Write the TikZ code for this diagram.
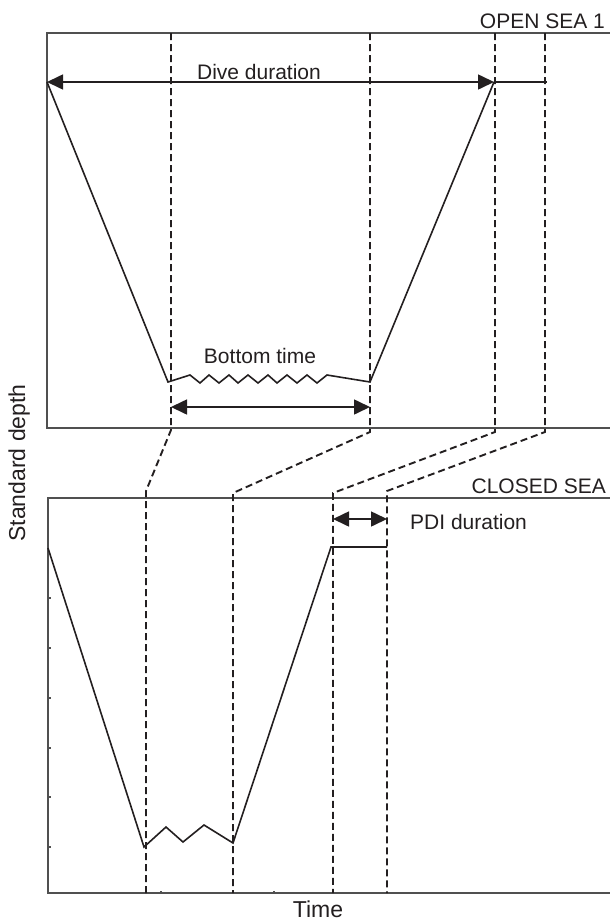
\documentclass[tikz,border=0pt]{standalone}
\usepackage{fontspec}
\setmainfont{Liberation Sans}
\usetikzlibrary{arrows.meta}
\definecolor{ink}{HTML}{231F20}
\definecolor{axisgray}{HTML}{505050}
\begin{document}
\begin{tikzpicture}[x=1pt,y=-1pt,
  axis/.style={draw=axisgray,line width=1.7pt},
  tick/.style={draw=axisgray,line width=1.3pt},
  profile/.style={draw=ink,line width=1.6pt,line join=miter},
  guide/.style={draw=ink,line width=1.9pt,dash pattern=on 7pt off 4pt},
  dim/.style={draw=ink,line width=1.6pt,{Triangle[length=16pt,width=15pt]}-{Triangle[length=16pt,width=15pt]}},
  plain/.style={draw=ink,line width=1.6pt},
  lbl/.style={font=\fontsize{21}{25}\selectfont,text=ink,inner sep=0pt},
  axlbl/.style={font=\fontsize{23}{27}\selectfont,text=ink,inner sep=0pt}
]
\useasboundingbox (0,0) rectangle (610,921);

% ---------- upper panel ----------
\coordinate (UTR) at (610,33);
\coordinate (UTL) at (47,33);
\coordinate (UBL) at (47,428);
\coordinate (UBR) at (610,428);
\draw[axis] (UTR) -- (UTL) -- (UBL) -- (UBR);
\node[lbl,anchor=base east] (opensea) at (605,28) {OPEN SEA 1};

% ---------- lower panel ----------
\coordinate (LTR) at (610,498);
\coordinate (LTL) at (48,498);
\coordinate (LBL) at (48,893);
\coordinate (LBR) at (610,893);
\draw[axis] (LTR) -- (LTL) -- (LBL) -- (LBR);
\node[lbl,anchor=base east] (closedsea) at (606,493) {CLOSED SEA};
\foreach \ty in {598,648,698,748,797,847} \draw[tick] (48,\ty) -- (51,\ty);
\foreach \tx in {161,274} \draw[tick] (\tx,893) -- (\tx,891);

% ---------- guide lines ----------
\coordinate (g1a) at (171,33);  \coordinate (g1b) at (171,430); \coordinate (g1c) at (146,491); \coordinate (g1d) at (146,893);
\coordinate (g2a) at (370,33);  \coordinate (g2b) at (370,432); \coordinate (g2c) at (233,493); \coordinate (g2d) at (233,893);
\coordinate (g3a) at (495,33);  \coordinate (g3b) at (495,432); \coordinate (g3c) at (333,493); \coordinate (g3d) at (333,893);
\coordinate (g4a) at (545,33);  \coordinate (g4b) at (545,432); \coordinate (g4c) at (387,491); \coordinate (g4d) at (387,893);
\draw[guide] (g1a) -- (g1b) -- (g1c) -- (g1d);
\draw[guide] (g2a) -- (g2b) -- (g2c) -- (g2d);
\draw[guide] (g3a) -- (g3b) -- (g3c) -- (g3d);
\draw[guide] (g4a) -- (g4b) -- (g4c) -- (g4d);

% ---------- upper profile ----------
\coordinate (us) at (47,82);
\coordinate (ub1) at (168,382);
\coordinate (ub2) at (370,382);
\coordinate (ue) at (494,82);
\draw[profile] (us) -- (ub1) -- (190,375) -- (200,383) -- (209,375) -- (219,383) -- (229,375) -- (238,383)
  -- (248,375) -- (258,383) -- (268,375) -- (277,383) -- (287,375) -- (297,383) -- (307,375) -- (317,383)
  -- (327,375) -- (ub2) -- (ue);

% dive duration
\coordinate (dd1) at (47,82);
\coordinate (dd2) at (494,82);
\coordinate (dd3) at (547,82);
\draw[dim] (dd1) -- (dd2);
\draw[plain] (dd2) -- (dd3);
\node[lbl,anchor=base] (dive) at (259,79) {Dive duration};

% bottom time
\coordinate (bt1) at (171,407);
\coordinate (bt2) at (370,407);
\draw[dim] (bt1) -- (bt2);
\node[lbl,anchor=base] (bottom) at (260,363) {Bottom time};

% ---------- lower profile ----------
\coordinate (ls) at (48,548);
\coordinate (lb1) at (144,847);
\coordinate (lb2) at (233,843);
\coordinate (lp1) at (331,547);
\coordinate (lp2) at (387,547);
\draw[profile] (ls) -- (lb1) -- (166,827) -- (183,842) -- (204,825) -- (lb2) -- (lp1) -- (lp2);

% PDI
\coordinate (pd1) at (333,519);
\coordinate (pd2) at (387,519);
\draw[dim] (pd1) -- (pd2);
\node[lbl,anchor=base west] (pdi) at (410,529) {PDI duration};

% axis labels
\node[axlbl,anchor=base,rotate=90] (ylab) at (25,463) {Standard depth};
\node[axlbl,anchor=base] (xlab) at (318,917) {Time};
\end{tikzpicture}
\end{document}
